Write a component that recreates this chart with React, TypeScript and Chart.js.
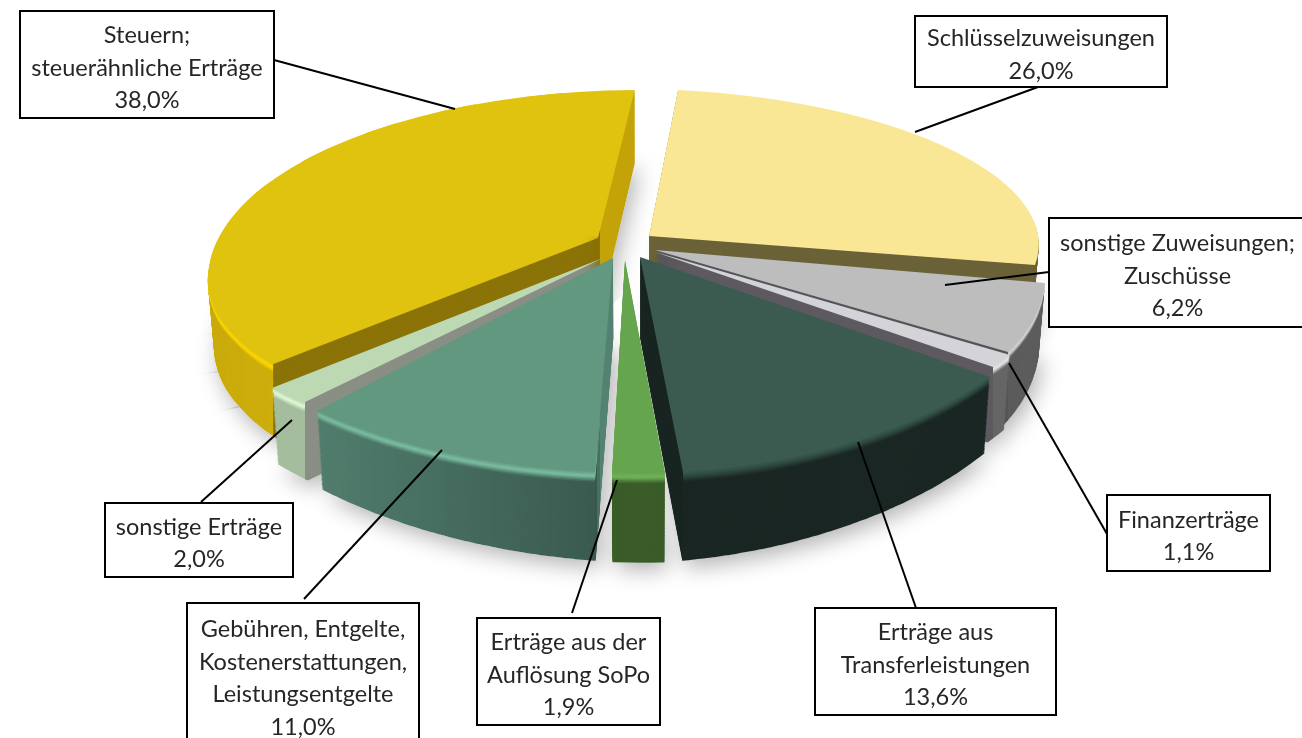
import React, { useEffect, useRef } from "react";
import { Chart, registerables } from "chart.js";

Chart.register(...registerables);

// ---- data (clockwise from twelve o'clock) ----
const categories = [
  "Schlüsselzuweisungen",
  "sonstige Zuweisungen; Zuschüsse",
  "Finanzerträge",
  "Erträge aus Transferleistungen",
  "Erträge aus der Auflösung SoPo",
  "Gebühren, Entgelte, Kostenerstattungen, Leistungsentgelte",
  "sonstige Erträge",
  "Steuern; steuerähnliche Erträge",
];
const values = [26.0, 6.2, 1.1, 13.6, 1.9, 11.0, 2.0, 38.0];
const labelLines = [
  ["Schlüsselzuweisungen"],
  ["sonstige Zuweisungen;", "Zuschüsse"],
  ["Finanzerträge"],
  ["Erträge aus", "Transferleistungen"],
  ["Erträge aus der", "Auflösung SoPo"],
  ["Gebühren, Entgelte,", "Kostenerstattungen,", "Leistungsentgelte"],
  ["sonstige Erträge"],
  ["Steuern;", "steuerähnliche Erträge"],
];

// ---- styles ----
const faceColors = ["#FAE796", "#BDBDBD", "#D3D3D8", "#3B5B50", "#65A54E", "#629780", "#BCD9B4", "#DFC30F"];
type Band = { x0: number; x1: number; c0: string; c1: string; hi?: string };
const wallBands: Band[][] = [
  [{ x0: 0, x1: 1302, c0: "#6B6238", c1: "#6B6238" }],
  [
    { x0: 600, x1: 1008, c0: "#55555A", c1: "#55555A" },
    { x0: 1008, x1: 1302, c0: "#5C5C5C", c1: "#6C6C6C", hi: "#D6D6D6" },
  ],
  [
    { x0: 600, x1: 993, c0: "#5E5A60", c1: "#5E5A60" },
    { x0: 993, x1: 1302, c0: "#666666", c1: "#6E6E6E", hi: "#E6E6E8" },
  ],
  [
    { x0: 600, x1: 683, c0: "#1A2623", c1: "#1A2623" },
    { x0: 683, x1: 1302, c0: "#1A2623", c1: "#1B2825", hi: "#2E4940" },
  ],
  [{ x0: 590, x1: 700, c0: "#3A5C29", c1: "#3A5C29", hi: "#72B25A" }],
  [
    { x0: 300, x1: 597, c0: "#527F6F", c1: "#3A5A4F", hi: "#7CC0A4" },
    { x0: 597, x1: 640, c0: "#568474", c1: "#568474" },
  ],
  [
    { x0: 260, x1: 305, c0: "#A4BD9D", c1: "#A4BD9D", hi: "#E2FCD8" },
    { x0: 305, x1: 640, c0: "#8A8F85", c1: "#8A8F85" },
  ],
  [
    { x0: 190, x1: 273, c0: "#C9AA0C", c1: "#CDAE0C", hi: "#FFD900" },
    { x0: 273, x1: 600, c0: "#8B7308", c1: "#8B7308" },
    { x0: 600, x1: 660, c0: "#C4A40A", c1: "#C4A40A" },
  ],
];
// the big slice's rim is a long curve on the tilted plane: trace it in short steps
const bigRim = Array.from({ length: 11 }, (_, k) => {
  const phi = ((-31.8 + (121.1 * k) / 10) * Math.PI) / 180;
  return [640 - 432 * Math.cos(phi), 280 - (phi > 0 ? 190 : 160) * Math.sin(phi)];
});
// where each slice lands on the tilted plane: hub, then rim points clockwise
const outlines: number[][][] = [
  [[649, 236], [678, 90], [1035, 265]],
  [[655, 250], [1045, 283], [1008, 352]],
  [[655, 252], [1010, 355], [993, 367]],
  [[640, 257], [990, 377], [683, 472]],
  [[625, 260], [665, 473], [612, 473]],
  [[613, 258], [595, 472], [317, 411]],
  [[603, 258], [303, 403], [272, 388]],
  [[598, 238], ...bigRim],
];
const paintOrder = [0, 7, 1, 2, 6, 5, 3, 4];

const boxes = [
  [915, 16, 1167, 87],
  [1049, 218, 1306, 327],
  [1107, 495, 1270, 571],
  [815, 608, 1056, 715],
  [477, 618, 660, 725],
  [187, 603, 419, 747],
  [105, 503, 293, 577],
  [20, 11, 274, 118],
];
const leaders = [
  [1038, 87, 915, 132],
  [1049, 272, 945, 285],
  [1107, 534, 1009, 363],
  [916, 608, 858, 442],
  [572, 613, 617, 480],
  [304, 599, 442, 450],
  [201, 502, 292, 420],
  [274, 60, 455, 109],
];

const hex = (c: string) => [1, 3, 5].map((i) => parseInt(c.slice(i, i + 2), 16));
const mix = (a: string, b: string, t: number) => {
  const A = hex(a), B = hex(b);
  return `rgb(${A.map((v, i) => Math.round(v + (B[i] - v) * t)).join(",")})`;
};

// depth of the pie body at a point of the top face
const drop = (p: number[]) => [(640 - p[0]) * 0.015, 69 + 0.0447 * p[1] - 0.028 * Math.abs(p[0] - 640)];
const shifted = (p: number[], t: number) => {
  const d = drop(p);
  return [p[0] + d[0] * t, p[1] + d[1] * t];
};

function paintArc(ctx: CanvasRenderingContext2D, arc: any, outline: number[][], color: string, t: number, band?: number[], shadow?: boolean) {
  const base = arc.options;
  const n = outline.length - 2;
  const start = arc.startAngle, end = arc.endAngle;
  const R = arc.outerRadius, cx = arc.x, cy = arc.y;
  const P0 = shifted(outline[0], t);
  arc.options = { ...base, backgroundColor: color, borderWidth: 0, offset: 0, spacing: 0 };
  for (let k = 0; k < n; k++) {
    const a = start + ((end - start) * k) / n;
    const b = start + ((end - start) * (k + 1)) / n;
    const P1 = shifted(outline[k + 1], t), P2 = shifted(outline[k + 2], t);
    const ax = R * Math.cos(a), ay = R * Math.sin(a), bx = R * Math.cos(b), by = R * Math.sin(b);
    const det = ax * by - ay * bx;
    const v1x = P1[0] - P0[0], v1y = P1[1] - P0[1], v2x = P2[0] - P0[0], v2y = P2[1] - P0[1];
    const m11 = (v1x * by - v2x * ay) / det;
    const m12 = (-v1x * bx + v2x * ax) / det;
    const m21 = (v1y * by - v2y * ay) / det;
    const m22 = (-v1y * bx + v2y * ax) / det;
    ctx.save();
    if (band) {
      ctx.beginPath();
      ctx.rect(band[0], 0, band[1] - band[0], 800);
      ctx.clip();
    }
    ctx.transform(m11, m21, m12, m22, P0[0] - m11 * cx - m12 * cy, P0[1] - m21 * cx - m22 * cy);
    if (n > 1) {
      const pad = shadow ? 0.005 : 0.05;
      const a0 = a - (shadow && k === 0 ? 0.35 : pad);
      const b0 = b + (shadow && k === n - 1 ? 0.35 : pad);
      ctx.beginPath();
      ctx.moveTo(cx, cy);
      ctx.lineTo(cx + 3 * R * Math.cos(a0), cy + 3 * R * Math.sin(a0));
      ctx.lineTo(cx + 3 * R * Math.cos(b0), cy + 3 * R * Math.sin(b0));
      ctx.closePath();
      ctx.clip();
    }
    arc.draw(ctx);
    ctx.restore();
  }
  arc.options = base;
}

const tiltedPie = {
  id: "tiltedPie",
  beforeDatasetsDraw(chart: any) {
    const ctx: CanvasRenderingContext2D = chart.ctx;
    const arcs = chart.getDatasetMeta(0).data;
    // soft ground shadow
    ctx.save();
    ctx.shadowColor = "rgba(0,0,0,0.3)";
    ctx.shadowBlur = 22;
    ctx.shadowOffsetX = 4;
    ctx.shadowOffsetY = 7;
    paintOrder.forEach((i) => paintArc(ctx, arcs[i], outlines[i], "#ffffff", 1, undefined, true));
    ctx.restore();
    const LAYERS = 64;
    const BEVEL = 0.12;
    paintOrder.forEach((i) => {
      const face = faceColors[i];
      for (let l = LAYERS; l >= 1; l--) {
        const t = l / LAYERS;
        wallBands[i].forEach((bd) => {
          const flat = bd.c0 === bd.c1;
          const step = flat ? bd.x1 - bd.x0 : 6;
          for (let x = bd.x0; x < bd.x1; x += step) {
            const u = flat ? 0 : (x - bd.x0) / (bd.x1 - bd.x0);
            let col = mix(bd.c0, bd.c1, u);
            if (t < BEVEL && bd.hi) {
              const q = t / BEVEL;
              const wall = hex(bd.c0).map((v, j) => v + (hex(bd.c1)[j] - v) * u);
              const wallHex = "#" + wall.map((v) => Math.round(v).toString(16).padStart(2, "0")).join("");
              col = q < 0.45 ? mix(face, bd.hi, q / 0.45) : mix(bd.hi, wallHex, (q - 0.45) / 0.55);
            }
            paintArc(ctx, arcs[i], outlines[i], col, t, [x, x + step]);
          }
        });
      }
      paintArc(ctx, arcs[i], outlines[i], face, 0);
    });
    return false;
  },
  afterDraw(chart: any) {
    const ctx: CanvasRenderingContext2D = chart.ctx;
    ctx.save();
    ctx.strokeStyle = "#000";
    ctx.lineWidth = 2;
    leaders.forEach((s) => {
      ctx.beginPath();
      ctx.moveTo(s[0], s[1]);
      ctx.lineTo(s[2], s[3]);
      ctx.stroke();
    });
    ctx.font = "400 23.5px Lato";
    ctx.textAlign = "center";
    ctx.textBaseline = "middle";
    boxes.forEach((b, i) => {
      ctx.fillStyle = "#fff";
      ctx.fillRect(b[0], b[1], b[2] - b[0], b[3] - b[1]);
      ctx.strokeRect(b[0], b[1], b[2] - b[0], b[3] - b[1]);
      const lines = [...labelLines[i], values[i].toFixed(1).replace(".", ",") + "%"];
      ctx.fillStyle = "#262626";
      lines.forEach((line, j) => {
        ctx.fillText(line, (b[0] + b[2]) / 2, (b[1] + b[3]) / 2 + 3.5 + (j - (lines.length - 1) / 2) * 32.7);
      });
    });
    ctx.restore();
  },
};

export default function App() {
  const ref = useRef<HTMLCanvasElement>(null);
  useEffect(() => {
    const chart = new Chart(ref.current!, {
      type: "pie",
      data: {
        labels: categories,
        datasets: [{ data: values, backgroundColor: faceColors, borderWidth: 0 }],
      },
      options: {
        animation: false,
        responsive: false,
        radius: 300,
        plugins: { legend: { display: false }, tooltip: { enabled: false } },
      } as any,
      plugins: [tiltedPie as any],
    });
    return () => chart.destroy();
  }, []);
  return (
    <canvas
      ref={ref}
      width={1302}
      height={738}
      style={{ position: "fixed", left: 0, top: 0, display: "block", background: "#fff" }}
    />
  );
}
